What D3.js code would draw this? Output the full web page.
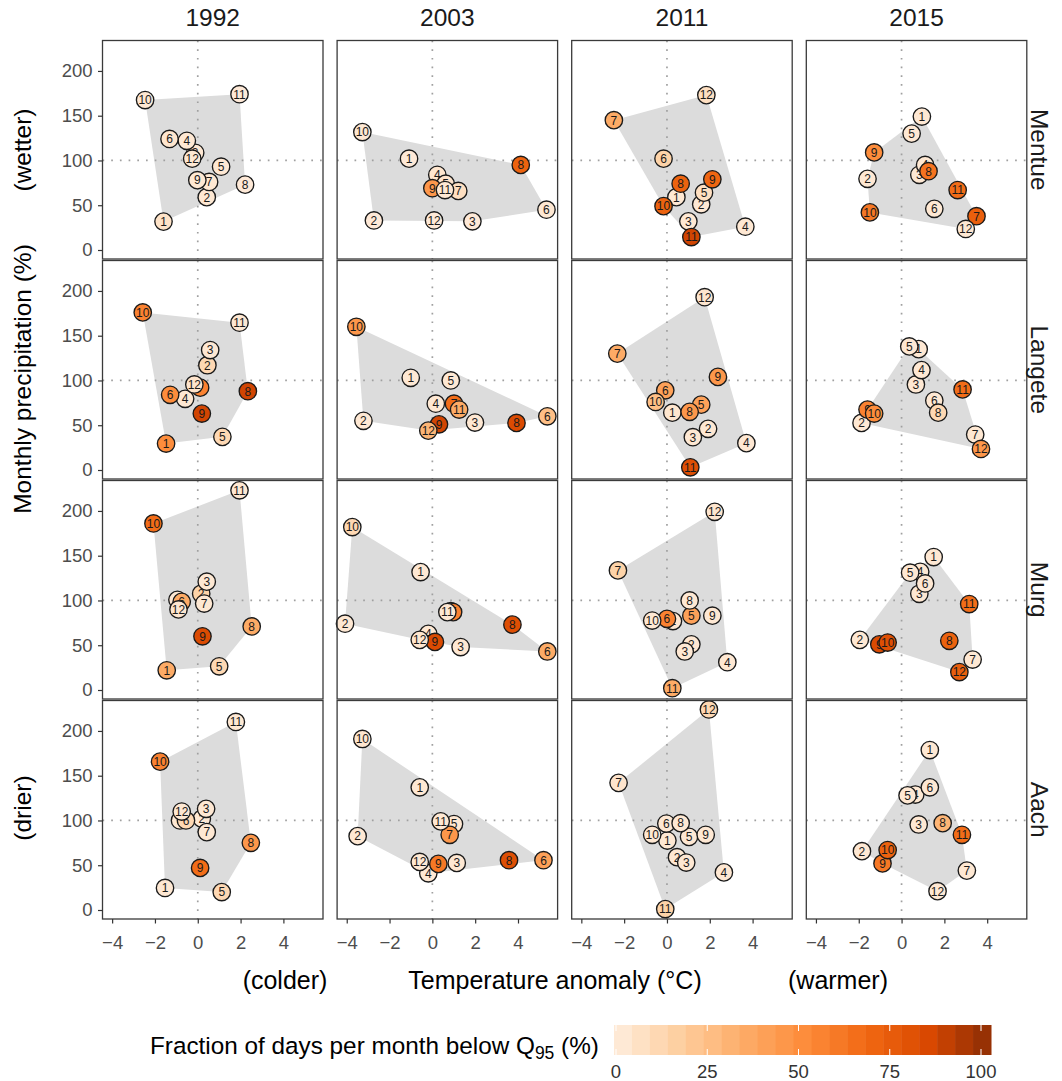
<!DOCTYPE html>
<html>
<head>
<meta charset="utf-8">
<script src="https://cdn.jsdelivr.net/npm/d3@7"></script>
<style>
  html, body { margin: 0; padding: 0; background: #fff; }
  svg { display: block; font-family: "Liberation Sans", Arial, sans-serif; }
</style>
</head>
<body>
<svg id="chart" width="1062" height="1081"></svg>
<script>
// Facet layout: columns are drought years, rows are catchments
const years = ["1992", "2003", "2011", "2015"];
const sites = ["Mentue", "Langete", "Murg", "Aach"];
const months = [1, 2, 3, 4, 5, 6, 7, 8, 9, 10, 11, 12];

// Temperature anomaly (°C), one row of 12 months per year
const tempMentue = [
  [-1.6, 0.42, -0.12, -0.51, 1.09, -1.32, 0.53, 2.21, -0.02, -2.46, 1.95, -0.26],
  [-1.09, -2.73, 1.87, 0.23, 0.62, 5.33, 1.21, 4.13, 0.0, -3.27, 0.59, 0.08],
  [0.44, 1.6, 1.0, 3.66, 1.73, -0.16, -2.48, 0.64, 2.12, -0.16, 1.14, 1.84],
  [0.95, -1.59, 0.83, 1.1, 0.47, 1.53, 3.5, 1.26, -1.28, -1.48, 2.62, 3.0]
];
const tempLangete = [
  [-1.48, 0.45, 0.58, -0.59, 1.15, -1.29, 0.11, 2.34, 0.19, -2.57, 1.95, -0.16],
  [-1.01, -3.22, 1.99, 0.16, 0.86, 5.37, 1.01, 3.93, 0.31, -3.55, 1.25, -0.19],
  [0.25, 1.92, 1.21, 3.71, 1.6, -0.08, -2.32, 1.06, 2.38, -0.53, 1.09, 1.76],
  [0.8, -1.87, 0.67, 0.93, 0.36, 1.53, 3.44, 1.71, -1.59, -1.28, 2.85, 3.71]
];
const tempMurg = [
  [-1.45, 0.16, 0.42, -0.95, 1.0, -0.75, 0.3, 2.52, 0.22, -2.07, 1.95, -0.9],
  [-0.55, -4.08, 1.32, -0.19, 0.86, 5.37, 0.97, 3.74, 0.12, -3.74, 0.7, -0.59],
  [0.28, 1.14, 0.83, 2.82, 1.14, 0.0, -2.29, 1.06, 2.12, -0.69, 0.25, 2.23],
  [1.5, -1.95, 0.83, 0.87, 0.4, 1.1, 3.32, 2.23, -1.04, -0.65, 3.16, 2.7]
];
const tempAach = [
  [-1.53, 0.19, 0.39, -0.83, 1.12, -0.55, 0.42, 2.48, 0.11, -1.76, 1.78, -0.75],
  [-0.59, -3.49, 1.14, -0.19, 1.01, 5.19, 0.81, 3.58, 0.28, -3.27, 0.39, -0.59],
  [0.02, 0.47, 0.9, 2.66, 1.03, -0.03, -2.26, 0.64, 1.81, -0.69, -0.08, 1.96],
  [1.32, -1.85, 0.8, 0.64, 0.28, 1.32, 3.05, 1.92, -0.89, -0.65, 2.82, 1.68]
];

// Monthly precipitation (% of normal)
const precMentue = [
  [31.7, 59, 108.6, 122, 93, 124, 76, 73, 78, 167.5, 174, 102],
  [102, 33, 32, 84, 74, 45, 66, 95, 69, 131.7, 67, 33],
  [59, 51, 32, 26, 64, 102, 145, 74, 79, 49, 14.5, 173],
  [149, 79.5, 84, 95, 130, 46, 37.7, 88, 109, 42, 67, 23.5]
];
const precLangete = [
  [29.5, 117, 134, 79.5, 37, 84, 92, 88, 63, 176, 164.5, 95.5],
  [103, 55, 53, 74, 100, 60, 74, 52.6, 51, 160, 67.5, 44],
  [64, 46, 36.6, 30, 73, 89, 130, 65, 104, 76, 3, 193],
  [135, 52.6, 95.5, 111.6, 138, 77.6, 39.6, 64, 67.5, 63, 90, 23.5]
];
const precMurg = [
  [22, 107.5, 121, 100.7, 26.5, 98.5, 96.6, 71, 60, 186, 223, 90],
  [131.7, 74, 48, 62.7, 88, 43, 87, 73, 53.7, 182, 87, 56],
  [77, 51, 43, 31, 83, 79.5, 133.6, 100, 83, 77.6, 2, 199],
  [148.5, 56, 107.5, 132, 131, 119, 34, 55, 51, 53, 96, 20]
];
const precAach = [
  [24.6, 102, 113, 100, 20, 100, 87, 75, 47, 165.7, 210, 110],
  [137, 82.5, 52.6, 41, 96, 55.6, 84, 55.6, 51.5, 191, 99, 53.7],
  [77.6, 59, 53, 42, 81.7, 96.6, 142, 97, 84, 84, 1, 224],
  [178.7, 65.7, 95.5, 129, 128, 137, 44, 97, 52, 67, 84, 21]
];

// Fraction of days per month with discharge below Q95 (%)
const lowMentue = [
  [6, 3, 3, 3, 3, 4, 3, 2, 3, 3, 2, 3],
  [2, 2, 2, 4, 5, 3, 8, 70, 45, 3, 3, 2],
  [3, 3, 3, 3, 8, 15, 35, 70, 68, 70, 85, 8],
  [3, 3, 3, 3, 3, 3, 72, 62, 50, 60, 65, 3]
];
const lowLangete = [
  [50, 12, 3, 3, 12, 50, 55, 85, 85, 55, 3, 5],
  [3, 3, 3, 3, 3, 25, 65, 82, 85, 45, 35, 30],
  [4, 3, 3, 3, 40, 40, 35, 45, 45, 25, 80, 4],
  [3, 3, 3, 3, 3, 3, 3, 12, 55, 50, 65, 45]
];
const lowMurg = [
  [35, 15, 3, 3, 12, 35, 3, 35, 82, 65, 3, 4],
  [3, 3, 3, 3, 5, 35, 55, 80, 82, 12, 3, 4],
  [3, 3, 3, 3, 40, 55, 15, 3, 3, 3, 35, 4],
  [3, 3, 3, 3, 3, 3, 3, 70, 82, 80, 65, 72]
];
const lowAach = [
  [3, 3, 3, 3, 12, 12, 3, 45, 65, 55, 3, 3],
  [3, 3, 3, 3, 3, 40, 45, 80, 60, 4, 3, 3],
  [3, 3, 3, 3, 3, 3, 5, 3, 3, 3, 15, 12],
  [3, 3, 3, 3, 3, 3, 3, 30, 60, 70, 65, 3]
];

// Axis ticks and legend breaks
const tempTicks = [-4, -2, 0, 2, 4];
const precTicks = [0, 50, 100, 150, 200];
const legendTicks = [0, 25, 50, 75, 100];
const orangeStops = ["#FEEDDE", "#FDD0A2", "#FDAE6B", "#FD8D3C", "#F16913", "#D94801", "#8C2D04"];

const siteTemp = [tempMentue, tempLangete, tempMurg, tempAach];
const sitePrec = [precMentue, precLangete, precMurg, precAach];
const siteLow = [lowMentue, lowLangete, lowMurg, lowAach];

// ---- geometry ----
const panelW = 220.5, panelH = 218.5;
const colX0 = 102.5, colStep = 234.6;
const rowY0 = 40.5, rowStep = 220;

const x = d3.scaleLinear().domain([-4.45, 5.85]).range([0, panelW]);
const y = d3.scaleLinear().domain([-9.5, 234]).range([218, 0]);
const fill = d3.scaleLinear()
  .domain(orangeStops.map((_, i) => i * 100 / (orangeStops.length - 1)))
  .range(orangeStops)
  .interpolate(d3.interpolateLab)
  .clamp(true);

const svg = d3.select("#chart");
svg.append("rect").attr("width", 1062).attr("height", 1081).attr("fill", "#fff");

const tickColor = "#4d4d4d";
const fontFamily = "Liberation Sans, Arial, sans-serif";

sites.forEach((site, r) => {
  years.forEach((year, c) => {
    const g = svg.append("g")
      .attr("transform", `translate(${colX0 + c * colStep},${rowY0 + r * rowStep})`);

    const pts = months.map((m, i) => ({
      month: m,
      t: siteTemp[r][c][i],
      p: sitePrec[r][c][i],
      f: siteLow[r][c][i]
    }));

    // convex hull of the twelve months
    const hull = d3.polygonHull(pts.map(d => [x(d.t), y(d.p)]));
    g.append("path")
      .attr("d", "M" + hull.join("L") + "Z")
      .attr("fill", "#dcdcdc");

    // reference lines at zero anomaly and normal precipitation
    g.append("line")
      .attr("x1", x(0)).attr("x2", x(0)).attr("y1", 0).attr("y2", panelH)
      .attr("stroke", "#a0a0a0").attr("stroke-width", 1.7)
      .attr("stroke-dasharray", "1.7,7");
    g.append("line")
      .attr("x1", 0).attr("x2", panelW).attr("y1", y(100)).attr("y2", y(100))
      .attr("stroke", "#a0a0a0").attr("stroke-width", 1.7)
      .attr("stroke-dasharray", "1.7,7");

    const mark = g.selectAll("g.pt").data(pts).join("g")
      .attr("class", "pt")
      .attr("transform", d => `translate(${x(d.t)},${y(d.p)})`);
    mark.append("circle")
      .attr("r", 8.7)
      .attr("fill", d => fill(d.f))
      .attr("stroke", "#1a1a1a")
      .attr("stroke-width", 1.35);
    mark.append("text")
      .attr("text-anchor", "middle")
      .attr("dy", "0.36em")
      .attr("font-size", 12)
      .attr("fill", "#1a1a1a")
      .text(d => d.month);

    g.append("rect")
      .attr("width", panelW).attr("height", panelH)
      .attr("fill", "none").attr("stroke", "#3a3a3a").attr("stroke-width", 1.3);

    if (c === 0) {
      const ay = g.append("g").call(
        d3.axisLeft(y).tickValues(precTicks).tickSize(4.5).tickPadding(5.5));
      ay.select(".domain").remove();
      ay.selectAll("line").attr("stroke", "#333").attr("stroke-width", 1.2);
      ay.selectAll("text").attr("fill", tickColor).attr("font-size", 18.5)
        .attr("font-family", fontFamily);
    }
    if (r === sites.length - 1) {
      const ax = g.append("g").attr("transform", `translate(0,${panelH})`).call(
        d3.axisBottom(x).tickValues(tempTicks).tickSize(4.5).tickPadding(12.5));
      ax.select(".domain").remove();
      ax.selectAll("line").attr("stroke", "#333").attr("stroke-width", 1.2);
      ax.selectAll("text").attr("fill", tickColor).attr("font-size", 18.5)
        .attr("font-family", fontFamily);
    }
  });
});

// column strips
years.forEach((year, c) => {
  svg.append("text")
    .attr("x", colX0 + c * colStep + panelW / 2)
    .attr("y", 17)
    .attr("dy", "0.36em")
    .attr("text-anchor", "middle")
    .attr("font-size", 24.5)
    .attr("fill", "#1a1a1a")
    .text(year);
});

// row strips on the right
sites.forEach((site, r) => {
  const cx = 1040, cy = rowY0 + r * rowStep + panelH / 2;
  svg.append("text")
    .attr("transform", `translate(${cx},${cy}) rotate(90)`)
    .attr("text-anchor", "middle")
    .attr("dy", "0.36em")
    .attr("font-size", 24.5)
    .attr("fill", "#1a1a1a")
    .text(site);
});

// y axis title pieces
[["(wetter)", 150], ["Monthly precipitation (%)", 379], ["(drier)", 808]].forEach(([s, cy]) => {
  svg.append("text")
    .attr("transform", `translate(22,${cy}) rotate(-90)`)
    .attr("text-anchor", "middle")
    .attr("dy", "0.36em")
    .attr("font-size", 24.5)
    .attr("fill", "#000")
    .text(s);
});

// x axis title pieces
[["(colder)", 285], ["Temperature anomaly (°C)", 555], ["(warmer)", 838]].forEach(([s, cx]) => {
  svg.append("text")
    .attr("x", cx).attr("y", 980)
    .attr("text-anchor", "middle")
    .attr("dy", "0.36em")
    .attr("font-size", 25)
    .attr("fill", "#000")
    .text(s);
});

// colour legend
const legX0 = 614, legX1 = 991, legY = 1025, legH = 30;
const legScale = d3.scaleLinear().domain([0, 100]).range([legX0 + 2, legX1 - 10]);
const nBins = 21;
const binW = (legX1 - legX0) / nBins;
d3.range(nBins).forEach(i => {
  const v = (i + 0.5) / nBins * 100;
  svg.append("rect")
    .attr("x", legX0 + i * binW).attr("y", legY)
    .attr("width", binW + 0.5).attr("height", legH)
    .attr("fill", fill(v));
});
legendTicks.forEach(v => {
  const lx = legScale(v);
  svg.append("line").attr("x1", lx).attr("x2", lx)
    .attr("y1", legY).attr("y2", legY + 6)
    .attr("stroke", "#fff").attr("stroke-width", 1);
  svg.append("line").attr("x1", lx).attr("x2", lx)
    .attr("y1", legY + legH - 6).attr("y2", legY + legH)
    .attr("stroke", "#fff").attr("stroke-width", 1);
  svg.append("text")
    .attr("x", lx).attr("y", 1071)
    .attr("text-anchor", "middle")
    .attr("dy", "0.36em")
    .attr("font-size", 18.5)
    .attr("fill", "#333")
    .text(v);
});

const title = svg.append("text")
  .attr("x", 150).attr("y", 1045)
  .attr("dy", "0.36em")
  .attr("font-size", 24.3)
  .attr("fill", "#000");
title.append("tspan").text("Fraction of days per month below Q");
title.append("tspan").attr("font-size", 17.5).attr("dy", 5).text("95");
title.append("tspan").attr("dy", -5).text(" (%)");
</script>
</body>
</html>
